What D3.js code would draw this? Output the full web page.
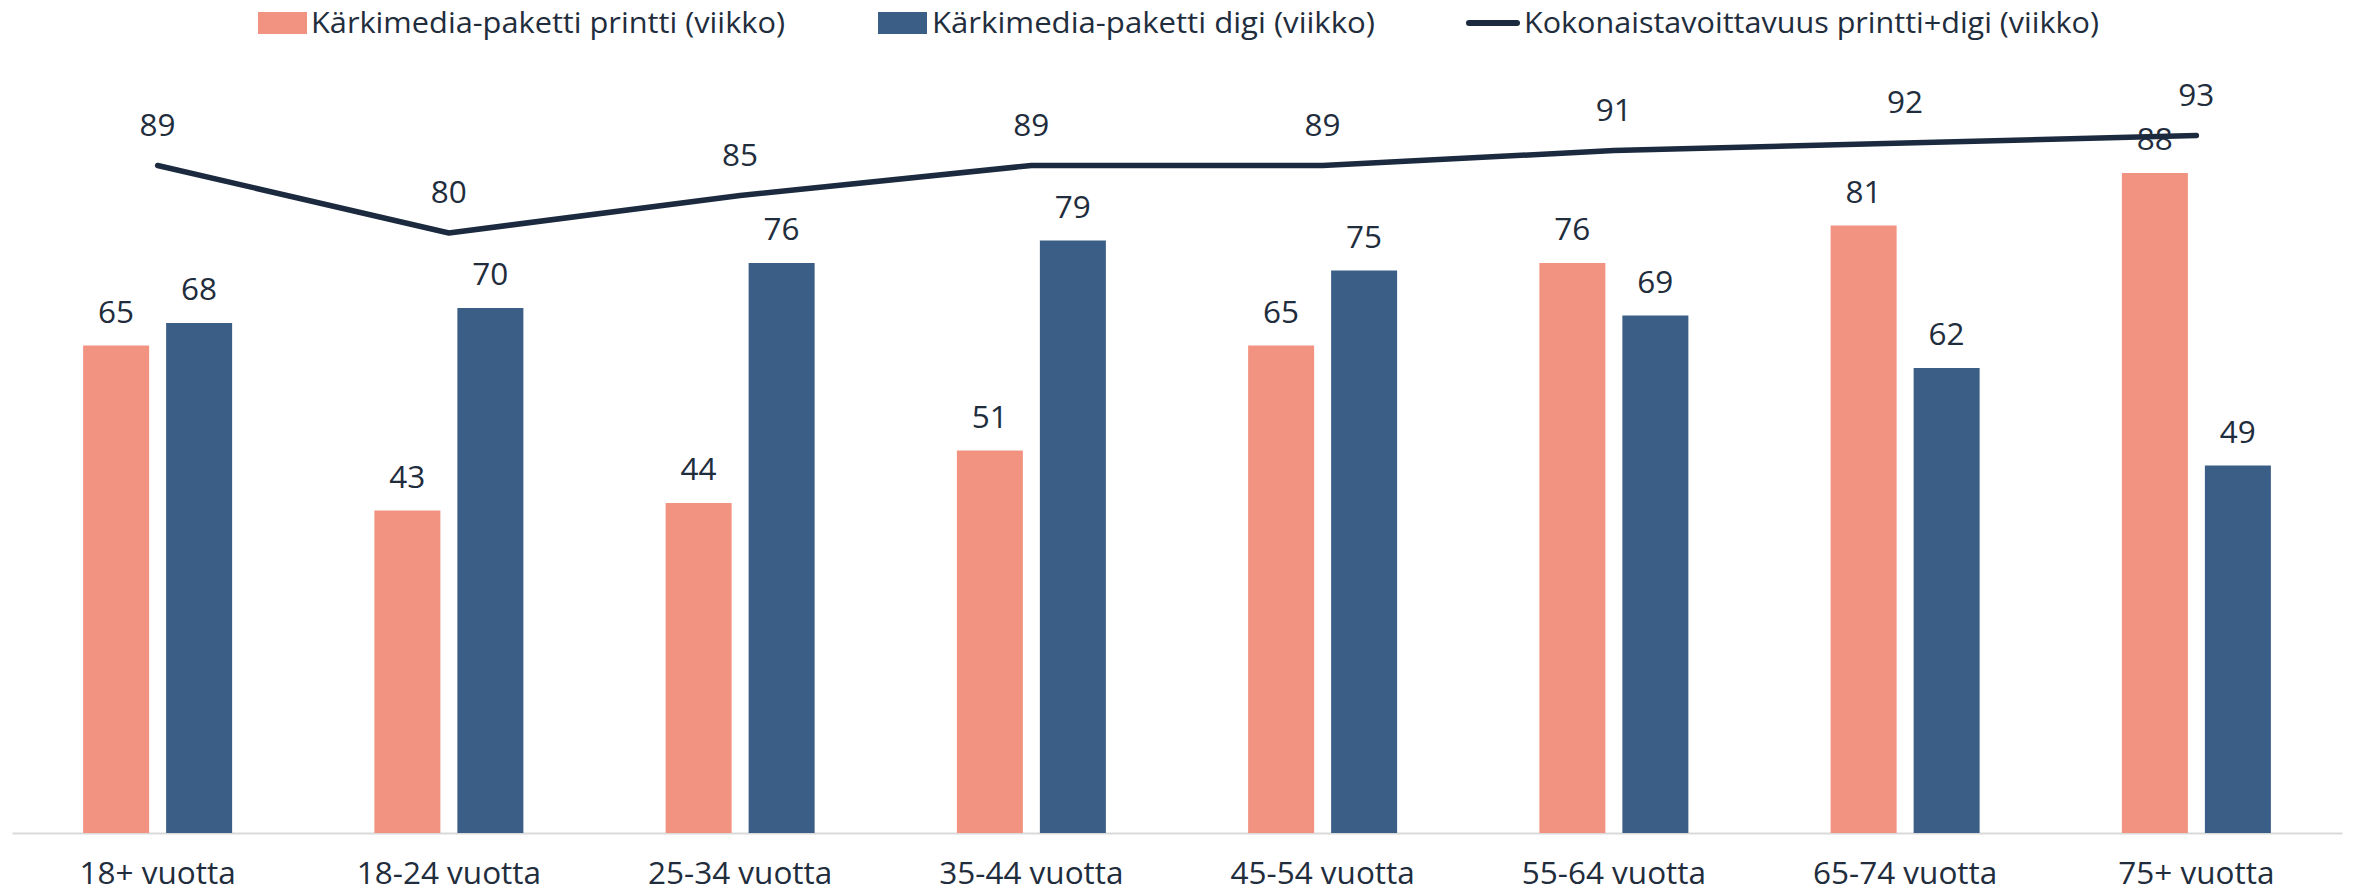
<!DOCTYPE html>
<html><head><meta charset="utf-8">
<script src="https://cdn.jsdelivr.net/npm/d3@7/dist/d3.min.js"></script>
<style>html,body{margin:0;padding:0;background:#fff;}svg{display:block;}</style>
</head><body>
<script>
const categories = ["18+ vuotta","18-24 vuotta","25-34 vuotta","35-44 vuotta","45-54 vuotta","55-64 vuotta","65-74 vuotta","75+ vuotta"];
const printValues = [65,43,44,51,65,76,81,88];
const digiValues = [68,70,76,79,75,69,62,49];
const totalValues = [89,80,85,89,89,91,92,93];
const seriesNames = ["Kärkimedia-paketti printti (viikko)","Kärkimedia-paketti digi (viikko)","Kokonaistavoittavuus printti+digi (viikko)"];

const W = 2354, H = 893;
const colPrint = "#F29382", colDigi = "#3B5E86", colLine = "#1B2A3E", textCol = "#1F2D3D";
const font = "'Open Sans', Lato, sans-serif";
const fs = 31.5;

const svg = d3.select("body").append("svg").attr("width", W).attr("height", H);

const x0 = d3.scaleBand().domain(categories).range([12, 2342]).padding(0);
const step = x0.bandwidth();
const x1 = d3.scaleBand().domain(["print","digi"]).range([(step-149)/2, (step+149)/2]).paddingInner(17/83).paddingOuter(0);
const y = d3.scaleLinear().domain([0,100]).range([833, 83]);

const data = categories.map((c,i)=>({c, print:printValues[i], digi:digiValues[i], total:totalValues[i]}));

// axis baseline
const xAxis = d3.axisBottom(x0).tickSize(0).tickPadding(0);
const gx = svg.append("g").attr("transform", `translate(0,${y(0)})`).call(xAxis);
gx.select(".domain").attr("stroke", "#D9D9D9").attr("stroke-width", 2);
gx.selectAll(".tick text").attr("font-family", font).attr("font-size", fs).attr("fill", textCol)
  .attr("dy", null).attr("y", 51);

// bars
const groups = svg.append("g").selectAll("g").data(data).join("g")
  .attr("transform", d => `translate(${x0(d.c)},0)`);
groups.selectAll("rect").data(d => [{k:"print", v:d.print},{k:"digi", v:d.digi}]).join("rect")
  .attr("x", d => x1(d.k)).attr("width", x1.bandwidth())
  .attr("y", d => y(d.v)).attr("height", d => y(0) - y(d.v))
  .attr("fill", d => d.k === "print" ? colPrint : colDigi);
groups.selectAll("text").data(d => [{k:"print", v:d.print},{k:"digi", v:d.digi}]).join("text")
  .attr("x", d => x1(d.k) + x1.bandwidth()/2).attr("y", d => y(d.v) - 23)
  .attr("text-anchor", "middle").attr("font-family", font).attr("font-size", fs).attr("fill", textCol)
  .text(d => d.v);

// line
const line = d3.line().x(d => x0(d.c) + step/2).y(d => y(d.total));
svg.append("path").datum(data).attr("d", line).attr("fill", "none")
  .attr("stroke", colLine).attr("stroke-width", 5.5).attr("stroke-linecap", "round").attr("stroke-linejoin", "round");
svg.append("g").selectAll("text").data(data).join("text")
  .attr("x", d => x0(d.c) + step/2).attr("y", d => y(d.total) - 30)
  .attr("text-anchor", "middle").attr("font-family", font).attr("font-size", fs).attr("fill", textCol)
  .text(d => d.total);

// legend
const leg = svg.append("g");
const legItems = [
  {name: seriesNames[0], type:"rect", color: colPrint, sx: 258, tx: 311, tw: 474},
  {name: seriesNames[1], type:"rect", color: colDigi, sx: 878, tx: 932, tw: 443},
  {name: seriesNames[2], type:"line", color: colLine, sx: 1467, tx: 1524, tw: 575}
];
legItems.forEach(it => {
  if (it.type === "rect") {
    leg.append("rect").attr("x", it.sx).attr("y", 12).attr("width", 49).attr("height", 22).attr("fill", it.color);
  } else {
    leg.append("line").attr("x1", it.sx+2).attr("x2", it.sx+50).attr("y1", 23).attr("y2", 23)
      .attr("stroke", it.color).attr("stroke-width", 6).attr("stroke-linecap", "round");
  }
  leg.append("text").attr("x", it.tx).attr("y", 33).attr("font-family", font).attr("font-size", 30)
    .attr("fill", textCol).attr("textLength", it.tw).attr("lengthAdjust", "spacingAndGlyphs").text(it.name);
});
</script>
</body></html>
